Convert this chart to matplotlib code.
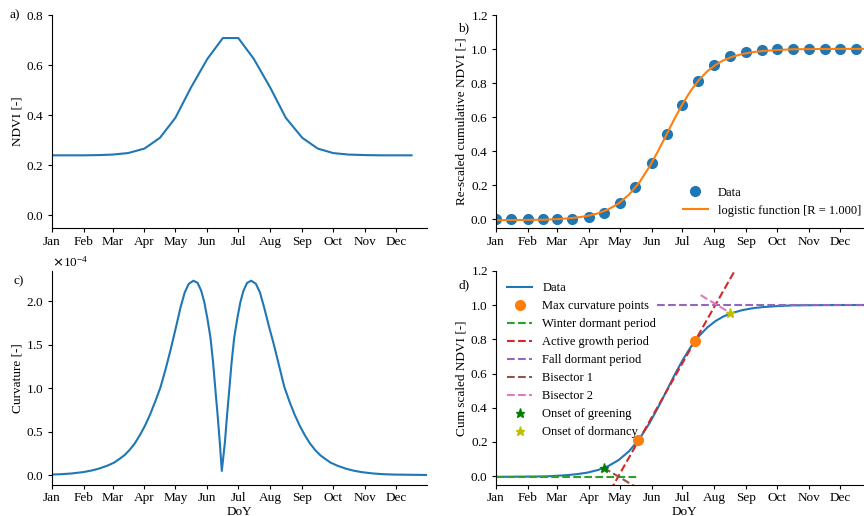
import numpy as np
import matplotlib
matplotlib.use('Agg')
import matplotlib.pyplot as plt

plt.rcParams['font.family'] = ['Liberation Serif', 'DejaVu Serif']
plt.rcParams['font.size'] = 9.5
plt.rcParams['legend.fontsize'] = 9
plt.rcParams['axes.formatter.use_mathtext'] = True
plt.rcParams['axes.spines.top'] = False
plt.rcParams['axes.spines.right'] = False
plt.rcParams['xtick.major.size'] = 3
plt.rcParams['ytick.major.size'] = 3
plt.rcParams['xtick.major.pad'] = 2.5
plt.rcParams['ytick.major.pad'] = 2.5
plt.rcParams['axes.labelpad'] = 1.5

MONTH_DAYS = [1, 32, 60, 91, 121, 152, 182, 213, 244, 274, 305, 335]
MONTHS = ['Jan', 'Feb', 'Mar', 'Apr', 'May', 'Jun', 'Jul', 'Aug', 'Sep', 'Oct', 'Nov', 'Dec']

# NDVI samples (roughly twice a month)
sample_days = [1, 16, 32, 47, 60, 75, 91, 106, 121, 136, 152, 167,
               182, 197, 213, 228, 244, 259, 274, 289, 305, 320, 335, 350]
ndvi = [0.240, 0.240, 0.240, 0.241, 0.243, 0.249, 0.267, 0.310, 0.390, 0.510, 0.625, 0.708,
        0.708, 0.625, 0.510, 0.390, 0.310, 0.267, 0.249, 0.243, 0.241, 0.240, 0.240, 0.240]

# re-scaled cumulative NDVI at the sample days
cum_ndvi = [0.0, 0.0, 0.0, 0.0, 0.0, 0.003, 0.012, 0.039, 0.096, 0.19, 0.329, 0.499,
            0.669, 0.81, 0.906, 0.962, 0.984, 0.995, 1.0, 1.0, 1.0, 1.0, 1.0, 1.0]

fit_days = [1, 20, 40, 50, 60, 70, 80, 90, 100, 110, 120, 130, 140, 150, 158, 166,
            174, 182, 190, 198, 206, 214, 222, 230, 240, 250, 260, 275, 290, 310, 330, 366]
fit_vals = [-0.004, -0.003, -0.002, -0.001, 0.002, 0.006, 0.012, 0.021, 0.036, 0.059, 0.094,
            0.145, 0.216, 0.31, 0.398, 0.492, 0.588, 0.677, 0.755, 0.819, 0.869, 0.907,
            0.935, 0.954, 0.971, 0.982, 0.989, 0.995, 0.999, 1.0, 1.001, 1.001]

# curvature of the fit (x 1e-4)
curv_days = [1, 10, 20, 31.5, 40, 46.5, 55, 61.5, 67, 71.5, 76.5, 81.5, 86.5, 91.5, 96.5,
             101.5, 106.5, 111.5, 116.5, 121.5, 126, 130, 134, 138.5, 142.5, 146, 149, 152,
             155, 157.5, 160, 162, 164, 166,
             169, 171, 173, 175.5, 178, 181, 184, 187, 190.5, 194.5, 199, 203, 207, 211.5,
             216.5, 221.5, 226.5, 231.5, 236.5, 241.5, 246.5, 251.5, 256.5, 261.5, 266,
             271.5, 278, 286.5, 293, 301.5, 313, 323, 332, 365]
curv_e4 = [0.008, 0.012, 0.02, 0.036, 0.055, 0.075, 0.11, 0.145, 0.19, 0.23, 0.29, 0.365,
           0.46, 0.57, 0.70, 0.85, 1.01, 1.22, 1.45, 1.70, 1.93, 2.10, 2.20, 2.235, 2.21,
           2.12, 1.99, 1.80, 1.58, 1.30, 0.95, 0.68, 0.38, 0.05,
           0.38, 0.68, 0.95, 1.30, 1.58, 1.80, 1.99, 2.12, 2.21, 2.235, 2.20, 2.10, 1.93,
           1.72, 1.50, 1.26, 1.02, 0.85, 0.70, 0.57, 0.46, 0.365, 0.29, 0.23, 0.19, 0.145,
           0.11, 0.075, 0.055, 0.036, 0.02, 0.012, 0.008, 0.003]
curv = np.array(curv_e4) * 1e-4

# phenology construction (panel d)
max_curv_days = [139, 194]
max_curv_vals = [0.21, 0.79]
winter_days = [1, 137.5]
winter_vals = [-0.004, -0.004]
growth_days = [112, 236]
growth_vals = [-0.084, 1.236]
fall_days = [157, 366]
fall_vals = [1.001, 1.001]
bis1_days = [105.5, 136]
bis1_vals = [0.049, -0.061]
bis2_days = [199.7, 227.8]
bis2_vals = [1.059, 0.957]
greening_day, greening_val = 105.5, 0.049
dormancy_day, dormancy_val = 228, 0.957

W, H = 864, 516


def box(left, right, top, bottom):
    return [left / W, 1 - bottom / H, (right - left) / W, (bottom - top) / H]


fig = plt.figure(figsize=(W / 100, H / 100), dpi=100)
ax_a = fig.add_axes(box(51.7, 427, 15, 228))
ax_b = fig.add_axes(box(496, 872, 15, 228))
ax_c = fig.add_axes(box(51.7, 427, 271, 484.7))
ax_d = fig.add_axes(box(496, 872, 271, 484.7))

for ax in [ax_a, ax_b, ax_c, ax_d]:
    ax.set_xticks(MONTH_DAYS)
    ax.set_xticklabels(MONTHS)

# a) NDVI
ax_a.plot(sample_days, ndvi, color='tab:blue')
ax_a.set_xlim(1, 365)
ax_a.set_ylim(-0.05, 0.8)
ax_a.set_yticks([0.0, 0.2, 0.4, 0.6, 0.8])
ax_a.set_ylabel('NDVI [-]')

# b) cumulative NDVI + logistic fit
ax_b.plot(sample_days, cum_ndvi, 'o', color='tab:blue', markersize=7, label='Data')
ax_b.plot(fit_days, fit_vals, color='tab:orange', label='logistic function [R = 1.000]')
ax_b.set_xlim(1, 366)
ax_b.set_ylim(-0.05, 1.2)
ax_b.set_ylabel('Re-scaled cumulative NDVI [-]')
ax_b.legend(loc='lower right', frameon=False)

# c) curvature
ax_c.plot(curv_days, curv, color='tab:blue')
ax_c.set_xlim(1, 365)
ax_c.ticklabel_format(axis='y', style='sci', scilimits=(0, 0), useMathText=True)
ax_c.yaxis.get_offset_text().set_fontsize(9.5)
ax_c.set_ylabel('Curvature [-]')
ax_c.set_xlabel('DoY', labelpad=1)

# d) phenology
ax_d.plot(fit_days, fit_vals, color='tab:blue', label='Data')
ax_d.plot(max_curv_days, max_curv_vals, 'o', color='tab:orange', markersize=7,
          zorder=4, label='Max curvature points')
ax_d.plot(winter_days, winter_vals, '--', color='tab:green', label='Winter dormant period')
ax_d.plot(growth_days, growth_vals, '--', color='tab:red', label='Active growth period')
ax_d.plot(fall_days, fall_vals, '--', color='tab:purple', label='Fall dormant period')
ax_d.plot(bis1_days, bis1_vals, '--', color='tab:brown', label='Bisector 1')
ax_d.plot(bis2_days, bis2_vals, '--', color='tab:pink', label='Bisector 2')
ax_d.plot(greening_day, greening_val, '*', color='g', markersize=6.5, zorder=5,
          label='Onset of greening')
ax_d.plot(dormancy_day, dormancy_val, '*', color='y', markersize=6.5, zorder=5,
          label='Onset of dormancy')
ax_d.set_xlim(1, 366)
ax_d.set_ylim(-0.05, 1.2)
ax_d.set_ylabel('Cum scaled NDVI [-]')
ax_d.set_xlabel('DoY', labelpad=1)
ax_d.legend(loc='upper left', frameon=False, labelspacing=0.48)

for lab, x, y in [('a)', 15, 15), ('b)', 463.7, 28.3), ('c)', 18.3, 281.7), ('d)', 463.7, 285.7)]:
    fig.text(x / W, 1 - y / H, lab, ha='center', va='center')

plt.savefig('out.png', dpi=100)
